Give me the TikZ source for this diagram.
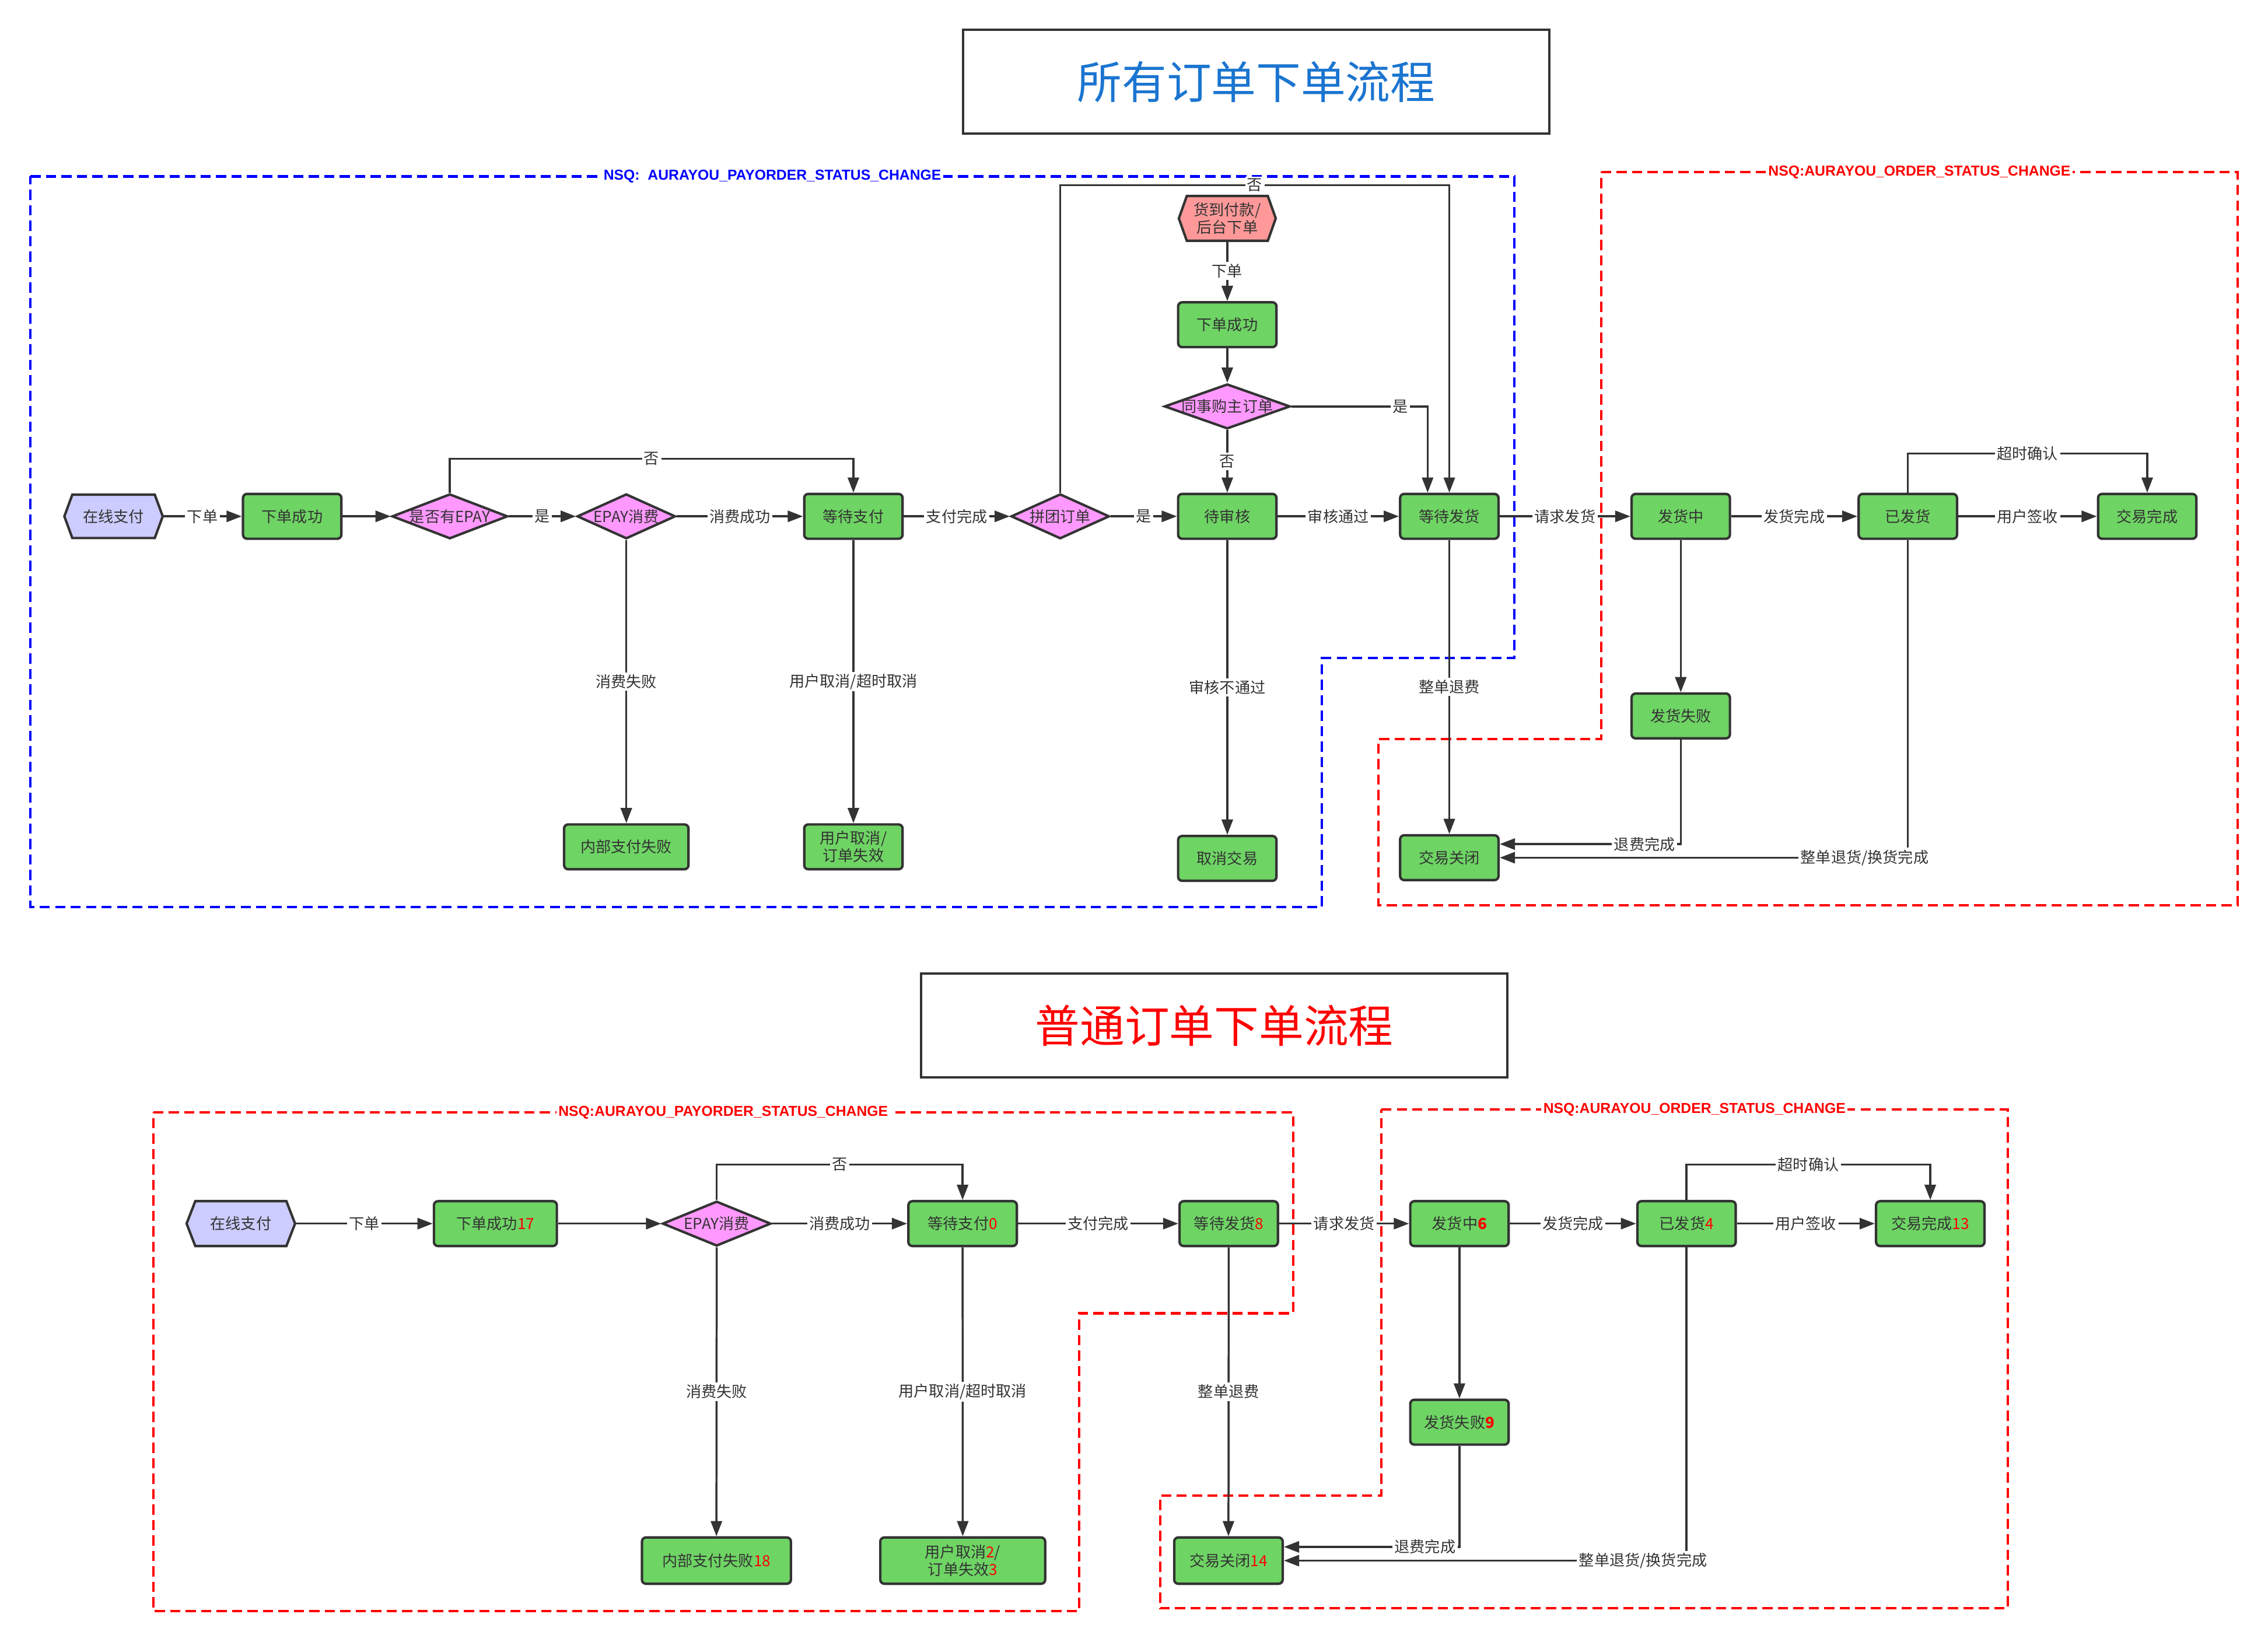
\documentclass[tikz,border=0pt]{standalone}
\usepackage{fontspec}
\setmainfont{Noto Sans CJK SC}
\newfontfamily\nsqfont{Liberation Sans}
\usetikzlibrary{arrows.meta,shapes.geometric}
\definecolor{ink}{HTML}{333333}
\definecolor{boxgreen}{RGB}{110,212,100}
\definecolor{lav}{HTML}{CCCCFF}
\definecolor{salmon}{HTML}{FF9999}
\definecolor{pinkd}{HTML}{FF99FF}
\definecolor{titleblue}{HTML}{1B75D0}
\definecolor{nsqblue}{HTML}{0000FF}
\definecolor{nsqred}{HTML}{FF0000}
\newcommand{\rn}[1]{\textcolor{nsqred}{#1}}
\begin{document}
\begin{tikzpicture}[x=0.025cm,y=-0.025cm,
 txt/.style={font=\fontsize{7.5}{8.6}\selectfont, text=ink},
 stbox/.style={txt, draw=ink, line width=1.2pt, fill=boxgreen, rounded corners=2pt, minimum width=#1*0.025cm, minimum height=0.775cm, inner sep=0pt, align=center},
 stbox/.default=68,
 decide/.style={shape=diamond, draw=ink, line width=1.2pt, fill=pinkd, minimum width=#1*0.025cm, minimum height=0.775cm, inner sep=0pt},
 hexst/.style={draw=ink, line width=1.2pt, line join=miter},
 hextxt/.style={txt, minimum width=#1*0.025cm, minimum height=0.775cm, inner sep=0pt, align=center},
 arr/.style={draw=ink, line width=1pt, -{Triangle[length=7.5pt,width=5.5pt]}},
 lbl/.style={txt, fill=white, inner sep=1pt},
 region/.style={line width=1.2pt, dash pattern=on 5pt off 2.6pt},
 nsq/.style={font=\nsqfont\bfseries\fontsize{7.1}{8}\selectfont, fill=white, inner sep=1pt},
 titlebox/.style={draw=ink, line width=1.2pt, minimum width=10.125cm, minimum height=1.8cm, font=\fontsize{22}{26}\selectfont}
]
\fill[white] (0,0) rectangle (1568,1135);
\useasboundingbox (0,0) rectangle (1568,1135);

% ---------- titles ----------
\node[titlebox, text=titleblue] (t1) at (868.5,56.5) {所有订单下单流程};
\node[titlebox, text=nsqred] (t2) at (839.5,709) {普通订单下单流程};

% ---------- regions ----------
\draw[region, draw=nsqblue] (21,122) -- (1047,122) -- (1047,455) -- (914,455) -- (914,627) -- (21,627) -- cycle;
\draw[region, draw=nsqred] (1107,119) -- (1547,119) -- (1547,626) -- (953,626) -- (953,511) -- (1107,511) -- cycle;
\draw[region, draw=nsqred] (106,769) -- (894,769) -- (894,908) -- (746,908) -- (746,1114) -- (106,1114) -- cycle;
\draw[region, draw=nsqred] (955,767) -- (1388,767) -- (1388,1112) -- (802,1112) -- (802,1034) -- (955,1034) -- cycle;
\node[nsq, text=nsqblue] (nsq1) at (534,122) {NSQ:\ \ AURAYOU\_PAYORDER\_STATUS\_CHANGE};
\node[nsq, text=nsqred] (nsq2) at (1327,119) {NSQ:AURAYOU\_ORDER\_STATUS\_CHANGE};
\node[nsq, text=nsqred] (nsq3) at (500,769) {NSQ:AURAYOU\_PAYORDER\_STATUS\_CHANGE};
\node[nsq, text=nsqred] (nsq4) at (1171.5,767) {NSQ:AURAYOU\_ORDER\_STATUS\_CHANGE};

% ---------- top: hexagons ----------
\draw[hexst, fill=lav] (44.5,357) -- (50,342) -- (107,342) -- (112.5,357) -- (107,372) -- (50,372) -- cycle;
\node[hextxt=68] (zx1) at (78.5,357) {在线支付};
\draw[hexst, fill=salmon] (815,151) -- (820.5,135.5) -- (876.5,135.5) -- (882,151) -- (876.5,166.5) -- (820.5,166.5) -- cycle;
\node[hextxt=67] (hd) at (848.5,151) {货到付款/\\后台下单};

% ---------- top: boxes ----------
\node[stbox] (xd1) at (202,357) {下单成功};
\node[decide=80] (epq) at (311,357) {};
\node[txt] (epqt) at (311,357) {是否有EPAY};
\node[decide=68] (epx) at (433,357) {};
\node[txt] (epxt) at (433,357) {EPAY消费};
\node[stbox] (dz) at (590,357) {等待支付};
\node[stbox=86] (nb) at (433,585.5) {内部支付失败};
\node[stbox] (yq) at (590,585.5) {用户取消/\\订单失效};
\node[decide=68] (pt) at (733,357) {};
\node[txt] (ptt) at (733,357) {拼团订单};
\node[stbox] (dsh) at (848.5,357) {待审核};
\node[stbox] (dfh) at (1002,357) {等待发货};
\node[stbox] (xd2) at (848.5,224.5) {下单成功};
\node[decide=87] (ts) at (848.5,281) {};
\node[txt] (tst) at (848.5,281) {同事购主订单};
\node[stbox] (qx) at (848.5,593.5) {取消交易};
\node[stbox] (gb) at (1002,593) {交易关闭};
\node[stbox] (fhz) at (1162,357) {发货中};
\node[stbox] (yfh) at (1319,357) {已发货};
\node[stbox] (jw) at (1484.5,357) {交易完成};
\node[stbox] (fs) at (1162,495) {发货失败};

% ---------- top: edges ----------
\draw[arr] (zx1) -- node[lbl] (e1) {下单} (xd1);
\draw[arr] (xd1) -- (epq);
\draw[arr] (epq) -- node[lbl] (e2) {是} (epx);
\draw[arr] (epq.north) -- ++(0,-23.5) -| node[lbl,pos=0.25] (e3) {否} (dz.north);
\draw[arr] (epx) -- node[lbl] (e4) {消费成功} (dz);
\draw[arr] (epx.south) -- node[lbl] (e5) {消费失败} (nb.north);
\draw[arr] (dz.south) -- node[lbl] (e6) {用户取消/超时取消} (yq.north);
\draw[arr] (dz) -- node[lbl] (e7) {支付完成} (pt);
\draw[arr] (pt) -- node[lbl] (e8) {是} (dsh);
\draw[arr] (pt.north) -- ++(0,-212.5) -| node[lbl,pos=0.25] (e9) {否} (dfh.north);
\draw[arr] (hd) -- node[lbl] (e10) {下单} (xd2);
\draw[arr] (xd2) -- (ts);
\draw[arr] (ts.east) -| node[lbl,pos=0.4] (e11) {是} ([xshift=-0.375cm]dfh.north);
\draw[arr] (ts.south) -- node[lbl] (e12) {否} (dsh.north);
\draw[arr] (dsh) -- node[lbl] (e13) {审核通过} (dfh);
\draw[arr] (dsh.south) -- node[lbl] (e14) {审核不通过} (qx.north);
\draw[arr] (dfh.south) -- node[lbl] (e15) {整单退费} (gb.north);
\draw[arr] (dfh) -- node[lbl] (e16) {请求发货} (fhz);
\draw[arr] (fhz) -- node[lbl] (e17) {发货完成} (yfh);
\draw[arr] (yfh) -- node[lbl] (e18) {用户签收} (jw);
\draw[arr] (yfh.north) -- ++(0,-27) -| node[lbl,pos=0.25] (e19) {超时确认} (jw.north);
\draw[arr] (fhz.south) -- (fs.north);
\draw[arr] (fs.south) |- node[lbl,pos=0.6] (e20) {退费完成} ([yshift=0.235cm]gb.east);
\draw[arr] (yfh.south) |- node[lbl,pos=0.553] (e21) {整单退货/换货完成} (gb.east);

% ---------- bottom: nodes ----------
\draw[hexst, fill=lav] (129,846) -- (135,830.5) -- (198,830.5) -- (204,846) -- (198,861.5) -- (135,861.5) -- cycle;
\node[hextxt=75] (zx2) at (166.5,846) {在线支付};
\node[stbox=85] (xd3) at (342.5,846) {下单成功\rn{17}};
\node[decide=75] (epx2) at (495.5,846) {};
\node[txt] (epx2t) at (495.5,846) {EPAY消费};
\node[stbox=75] (dz2) at (665.5,846) {等待支付\rn{0}};
\node[stbox=68] (dfh2) at (849.5,846) {等待发货\rn{8}};
\node[stbox=68] (fhz2) at (1009,846) {发货中\rn{\textbf{6}}};
\node[stbox=68] (yfh2) at (1166,846) {已发货\rn{4}};
\node[stbox=75] (jw2) at (1334.5,846) {交易完成\rn{13}};
\node[stbox=103, minimum height=0.8cm] (nb2) at (495.3,1079) {内部支付失败\rn{18}};
\node[stbox=114, minimum height=0.8cm] (yq2) at (665.6,1079) {用户取消\rn{2}/\\订单失效\rn{3}};
\node[stbox=75, minimum height=0.8cm] (gb2) at (849.3,1079) {交易关闭\rn{14}};
\node[stbox=68] (fs2) at (1009,983.3) {发货失败\rn{\textbf{9}}};

% ---------- bottom: edges ----------
\draw[arr] (zx2) -- node[lbl] (f1) {下单} (xd3);
\draw[arr] (xd3) -- (epx2);
\draw[arr] (epx2.north) -- ++(0,-24.5) -| node[lbl,pos=0.25] (f2) {否} (dz2.north);
\draw[arr] (epx2) -- node[lbl] (f3) {消费成功} (dz2);
\draw[arr] (dz2) -- node[lbl] (f4) {支付完成} (dfh2);
\draw[arr] (dfh2) -- node[lbl] (f5) {请求发货} (fhz2);
\draw[arr] (fhz2) -- node[lbl] (f6) {发货完成} (yfh2);
\draw[arr] (yfh2) -- node[lbl] (f7) {用户签收} (jw2);
\draw[arr] (yfh2.north) -- ++(0,-24.5) -| node[lbl,pos=0.25] (f8) {超时确认} (jw2.north);
\draw[arr] (epx2.south) -- node[lbl] (f9) {消费失败} (nb2.north);
\draw[arr] (dz2.south) -- node[lbl] (f10) {用户取消/超时取消} (yq2.north);
\draw[arr] (dfh2.south) -- node[lbl] (f11) {整单退费} (gb2.north);
\draw[arr] (fhz2.south) -- (fs2.north);
\draw[arr] (fs2.south) |- node[lbl,pos=0.598] (f12) {退费完成} ([yshift=0.2375cm]gb2.east);
\draw[arr] (yfh2.south) |- node[lbl,pos=0.554] (f13) {整单退货/换货完成} (gb2.east);
\end{tikzpicture}
\end{document}
